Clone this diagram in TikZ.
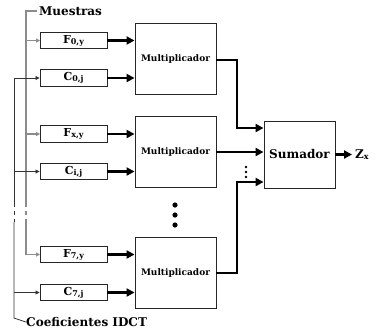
\documentclass[tikz,border=0pt]{standalone}
\usepackage{fontspec}
\setmainfont{DejaVu Serif}
\usetikzlibrary{arrows.meta}
\begin{document}
\begin{tikzpicture}[x=1pt,y=-1pt,
  inbox/.style={draw=black!85,line width=0.9pt,minimum width=67pt,minimum height=16.5pt,inner sep=0pt,font=\bfseries\fontsize{11}{12}\selectfont},
  multbox/.style={draw=black!85,line width=0.9pt,minimum width=81pt,minimum height=71pt,inner sep=0pt,font=\bfseries\fontsize{9}{10}\selectfont},
  sumbox/.style={draw=black!85,line width=0.9pt,minimum width=71pt,minimum height=67pt,inner sep=0pt,font=\bfseries\fontsize{12}{14}\selectfont},
  bigarrow/.style={line width=2.6pt,-{Triangle[length=8pt,width=8pt]}},
  thickline/.style={line width=2.6pt},
  grayline/.style={draw=black!45,line width=1.2pt},
  coefline/.style={draw=black!80,line width=0.8pt},
  smallarrow/.style={-{Triangle[length=4pt,width=4pt]}},
  lbl/.style={font=\bfseries\fontsize{12}{14}\selectfont,inner sep=0pt,anchor=west},
  sub/.style={}
]
\newcommand{\mysub}[1]{\raisebox{-1pt}{\fontsize{8}{9}\selectfont #1}}
\useasboundingbox (0,0) rectangle (379,333);
% input boxes
\node[inbox] (f0) at (73.5,40.5) {F\mysub{0,y}};
\node[inbox] (c0) at (73.5,78) {C\mysub{0,j}};
\node[inbox] (fx) at (73.5,134) {F\mysub{x,y}};
\node[inbox] (ci) at (73.5,171.5) {C\mysub{i,j}};
\node[inbox] (f7) at (73.5,254.5) {F\mysub{7,y}};
\node[inbox] (c7) at (73.5,292.5) {C\mysub{7,j}};
% multipliers
\node[multbox] (m1) at (175.5,59) {Multiplicador};
\node[multbox] (m2) at (175.5,152) {Multiplicador};
\node[multbox] (m3) at (175.5,273) {Multiplicador};
% sumador
\node[sumbox] (sum) at (299.5,154.5) {Sumador};
\node[lbl] (zx) at (355,155) {Z\mysub{x}};
% labels
\node[lbl] (mu) at (39,11) {Muestras};
\node[lbl] (co) at (26,322) {Coeficientes IDCT};
% input arrows
\foreach \a/\b in {f0/m1,c0/m1,fx/m2,ci/m2,f7/m3,c7/m3}
  \draw[bigarrow] (\a.east) -- (\a.east -| \b.west);
% sum inputs
\coordinate (s1) at (237,128);
\coordinate (s3) at (237,182);
\draw[thickline,-{Triangle[length=8pt,width=8pt]}] (m1.east |- 0,60) -| (s1) -- (s1 -| sum.west);
\draw[bigarrow] (m2.east) -- (m2.east -| sum.west);
\draw[thickline,-{Triangle[length=8pt,width=8pt]}] (m3.east) -| (s3) -- (s3 -| sum.west);
\coordinate (zend) at (352,154.5);
\draw[bigarrow] (sum.east) -- (zend);
% dots
\foreach \y in {167,172,177} \fill (246,\y) circle (1.3pt);
\foreach \y in {205,215,225} \fill (175,\y) circle (2.6pt);
% muestras line
\coordinate (g0) at (26,11);
\coordinate (g1) at (26,203);
\coordinate (g2) at (26,222);
\draw[grayline] (mu.west) ++(-2,0) -- (g0) -- (g1);
\draw[grayline,dash pattern=on 4pt off 4pt] (g1) -- (g2);
\draw[grayline] (g2) -- (g2 |- f7.west);
\foreach \n in {f0,fx,f7}
  \draw[grayline,smallarrow,shorten >=-0.5pt] (g0 |- \n.west) -- (\n.west);
% coef line
\coordinate (k0) at (14,78);
\coordinate (k1) at (14,203);
\coordinate (k2) at (14,222);
\coordinate (k3) at (14,318);
\draw[coefline] (k0) -- (k1);
\draw[coefline,dash pattern=on 4pt off 4pt] (k1) -- (k2);
\draw[coefline] (k2) -- (k3) -- (co.west);
\foreach \n in {c0,ci,c7}
  \draw[coefline,smallarrow] (k0 |- \n.west) -- (\n.west);
\end{tikzpicture}
\end{document}
